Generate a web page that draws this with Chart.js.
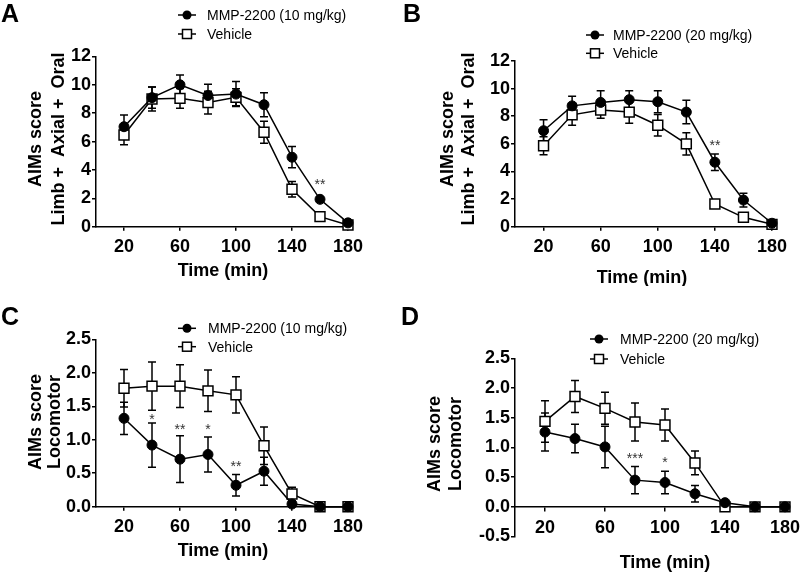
<!DOCTYPE html>
<html lang="en">
<head>
<meta charset="UTF-8">
<title>AIMs score</title>
<style>
  body { margin: 0; background: #fff; }
  .panel { position: absolute; width: 400px; height: 286px; }
</style>
</head>
<body>
<div class="panel" style="left:0;top:0"><canvas id="pA" width="400" height="286"></canvas></div>
<div class="panel" style="left:400px;top:0"><canvas id="pB" width="400" height="286"></canvas></div>
<div class="panel" style="left:0;top:286px"><canvas id="pC" width="400" height="286"></canvas></div>
<div class="panel" style="left:400px;top:286px"><canvas id="pD" width="400" height="286"></canvas></div>
<script src="https://cdn.jsdelivr.net/npm/chart.js"></script>
<script>
const times = [20, 40, 60, 80, 100, 120, 140, 160, 180];
const xTicks = [20, 60, 100, 140, 180];

// A: limb + axial + oral, 10 mg/kg
const mmp10Limb = [7.05, 9.1, 10.0, 9.25, 9.35, 8.6, 4.9, 1.93, 0.27];
const mmp10LimbSem = [0.83, 0.75, 0.7, 0.8, 0.88, 0.85, 0.75, 0.15, 0.1];
const veh10Limb = [6.47, 9.0, 9.05, 8.75, 9.12, 6.66, 2.64, 0.71, 0.12];
const veh10LimbSem = [0.7, 0.85, 0.7, 0.8, 0.6, 0.78, 0.55, 0.12, 0.08];

// B: limb + axial + oral, 20 mg/kg
const mmp20Limb = [6.95, 8.75, 9.0, 9.2, 9.05, 8.3, 4.67, 1.93, 0.25];
const mmp20LimbSem = [0.8, 0.7, 0.85, 0.65, 0.8, 0.85, 0.6, 0.5, 0.1];
const veh20Limb = [5.86, 8.1, 8.45, 8.3, 7.35, 6.0, 1.64, 0.68, 0.17];
const veh20LimbSem = [0.65, 0.75, 0.6, 0.8, 0.78, 0.8, 0.1, 0.1, 0.08];

// C: locomotor, 10 mg/kg
const mmp10Loco = [1.32, 0.92, 0.71, 0.78, 0.32, 0.53, 0.04, 0, 0];
const mmp10LocoSem = [0.24, 0.33, 0.35, 0.26, 0.16, 0.21, 0.02, 0, 0];
const veh10Loco = [1.77, 1.80, 1.80, 1.73, 1.67, 0.91, 0.19, 0, 0];
const veh10LocoSem = [0.28, 0.36, 0.32, 0.31, 0.27, 0.28, 0.1, 0, 0];

// D: locomotor, 20 mg/kg
const mmp20Loco = [1.26, 1.15, 1.01, 0.45, 0.41, 0.22, 0.07, 0, 0];
const mmp20LocoSem = [0.32, 0.24, 0.35, 0.23, 0.19, 0.14, 0.02, 0, 0];
const veh20Loco = [1.44, 1.86, 1.66, 1.43, 1.38, 0.74, 0, 0, 0];
const veh20LocoSem = [0.35, 0.27, 0.27, 0.32, 0.27, 0.2, 0, 0, 0];

// significance marks
const starsA = [{ x: 160, y: 3.2, text: '**' }];
const starsB = [{ x: 140, y: 6.15, text: '**' }];
const starsC = [
  { x: 40, y: 1.35, text: '*' },
  { x: 60, y: 1.21, text: '**' },
  { x: 80, y: 1.21, text: '*' },
  { x: 100, y: 0.65, text: '**' },
];
const starsD = [
  { x: 80, y: 0.88, text: '***' },
  { x: 100, y: 0.81, text: '*' },
];

const FONT = "'Liberation Sans', Arial, Helvetica, sans-serif";
Chart.defaults.font.family = FONT;
Chart.defaults.color = '#000';

const W = 400, H = 286;

// error bars under the markers, stars / legend / titles on top
const decor = {
  id: 'decor',
  beforeDatasetsDraw(chart) {
    const ctx = chart.ctx;
    const ys = chart.scales.y;
    ctx.save();
    ctx.strokeStyle = '#000';
    ctx.lineWidth = 1.5;
    chart.data.datasets.forEach((ds, di) => {
      const meta = chart.getDatasetMeta(di);
      meta.data.forEach((pt, i) => {
        const e = ds.errors[i];
        if (!e) return;
        const v = ds.data[i].y;
        const y1 = ys.getPixelForValue(v - e);
        const y2 = ys.getPixelForValue(v + e);
        ctx.beginPath();
        ctx.moveTo(pt.x, y1); ctx.lineTo(pt.x, y2);
        ctx.moveTo(pt.x - 4, y1); ctx.lineTo(pt.x + 4, y1);
        ctx.moveTo(pt.x - 4, y2); ctx.lineTo(pt.x + 4, y2);
        ctx.stroke();
      });
    });
    ctx.restore();
  },
  afterDraw(chart, args, o) {
    const ctx = chart.ctx;
    const xs = chart.scales.x, ys = chart.scales.y;
    ctx.save();
    ctx.fillStyle = '#000';

    // panel letter
    ctx.font = `bold 25px ${FONT}`;
    ctx.textAlign = 'left';
    ctx.textBaseline = 'alphabetic';
    ctx.fillText(o.letter, o.letterPos[0], o.letterPos[1]);

    // stars
    ctx.font = `14px ${FONT}`;
    ctx.fillStyle = '#333';
    ctx.textAlign = 'center';
    o.stars.forEach(s => {
      ctx.fillText(s.text, xs.getPixelForValue(s.x), ys.getPixelForValue(s.y) + 8);
    });
    ctx.fillStyle = '#000';

    // legend
    const lg = o.legend;
    ctx.lineWidth = 1.5;
    ctx.strokeStyle = '#000';
    ctx.font = `14px ${FONT}`;
    ctx.textAlign = 'left';
    lg.labels.forEach((lab, i) => {
      const y = lg.rows[i];
      ctx.beginPath();
      ctx.moveTo(lg.cx - 9, y); ctx.lineTo(lg.cx + 9, y);
      ctx.stroke();
      if (i === 0) {
        ctx.beginPath();
        ctx.arc(lg.cx, y, 4.5, 0, Math.PI * 2);
        ctx.fill();
      } else {
        ctx.fillStyle = '#fff';
        ctx.fillRect(lg.cx - 4.5, y - 4.5, 9, 9);
        ctx.strokeRect(lg.cx - 4.5, y - 4.5, 9, 9);
        ctx.fillStyle = '#000';
      }
      ctx.fillText(lab, lg.tx, y + 5);
    });

    // axis titles
    ctx.font = `bold 18px ${FONT}`;
    ctx.textAlign = 'center';
    ctx.fillText('Time (min)', o.xTitle[0], o.xTitle[1] + 6);
    o.yTitle.lines.forEach((line, i) => {
      ctx.save();
      ctx.translate(o.yTitle.xs[i], o.yTitle.yc);
      ctx.rotate(-Math.PI / 2);
      ctx.fillText(line, 0, 6.4);
      ctx.restore();
    });
    ctx.restore();
  }
};

function makePanel(id, cfg) {
  const a = cfg.area;
  const pts = arr => times.map((t, i) => ({ x: t, y: arr[i] }));
  const tickFont = { size: 18, weight: 'bold' };
  const xScale = {
    type: 'linear',
    min: 0,
    max: 180,
    border: { display: true, color: '#000', width: 1.5 },
    grid: { display: true, drawOnChartArea: false, drawTicks: true, tickLength: 4, color: '#000', lineWidth: 1.5 },
    ticks: { font: tickFont, padding: 6, maxRotation: 0, callback: v => v },
    afterBuildTicks: s => { s.ticks = xTicks.map(v => ({ value: v })); },
    afterFit: s => {
      s.height = cfg.axisAtZero ? 0 : H - a.bottom;
      s.paddingLeft = 0; s.paddingRight = 0;
    },
  };
  if (cfg.axisAtZero) xScale.position = { y: 0 };
  new Chart(document.getElementById(id), {
    type: 'line',
    data: {
      datasets: [
        {
          data: pts(cfg.mmp), errors: cfg.mmpErr, clip: false,
          borderColor: '#000', borderWidth: 1.5,
          pointStyle: 'circle', pointRadius: 5,
          pointBackgroundColor: '#000', pointBorderColor: '#000', pointBorderWidth: 1,
        },
        {
          data: pts(cfg.veh), errors: cfg.vehErr, clip: false,
          borderColor: '#000', borderWidth: 1.5,
          pointStyle: 'rect', pointRadius: 7,
          pointBackgroundColor: '#fff', pointBorderColor: '#000', pointBorderWidth: 1.5,
        },
      ],
    },
    options: {
      responsive: false,
      animation: false,
      events: [],
      layout: {
        padding: { left: 0, top: a.top, right: W - a.right, bottom: cfg.axisAtZero ? H - a.bottom : 0 },
      },
      scales: {
        x: xScale,
        y: {
          min: cfg.yMin, max: cfg.yMax,
          border: { display: true, color: '#000', width: 1.5 },
          grid: { display: true, drawOnChartArea: false, drawTicks: true, tickLength: 4, color: '#000', lineWidth: 1.5 },
          ticks: {
            font: tickFont, padding: 1, stepSize: cfg.yStep,
            callback: v => cfg.decimals ? v.toFixed(1) : v,
          },
          afterFit: s => { s.width = a.left; s.paddingTop = 0; s.paddingBottom = 0; },
        },
      },
      plugins: {
        legend: { display: false },
        tooltip: { enabled: false },
        decor: {
          letter: cfg.letter, letterPos: cfg.letterPos,
          stars: cfg.stars,
          legend: cfg.legend,
          xTitle: cfg.xTitle,
          yTitle: cfg.yTitle,
        },
      },
    },
    plugins: [decor],
  });
}

makePanel('pA', {
  letter: 'A', letterPos: [1, 22],
  area: { left: 96, right: 348, top: 56.5, bottom: 226.7 },
  yMin: 0, yMax: 12, yStep: 2,
  mmp: mmp10Limb, mmpErr: mmp10LimbSem, veh: veh10Limb, vehErr: veh10LimbSem,
  stars: starsA,
  legend: { labels: ['MMP-2200 (10 mg/kg)', 'Vehicle'], cx: 187, tx: 207, rows: [15, 34] },
  xTitle: [223, 269.5],
  yTitle: { lines: ['AIMs score', 'Limb +  Axial +  Oral'], xs: [35, 58], yc: 139 },
});

makePanel('pB', {
  letter: 'B', letterPos: [3, 22],
  area: { left: 115, right: 372, top: 61, bottom: 226.7 },
  yMin: 0, yMax: 12, yStep: 2,
  mmp: mmp20Limb, mmpErr: mmp20LimbSem, veh: veh20Limb, vehErr: veh20LimbSem,
  stars: starsB,
  legend: { labels: ['MMP-2200 (20 mg/kg)', 'Vehicle'], cx: 195, tx: 213, rows: [35, 53.3] },
  xTitle: [242, 276.7],
  yTitle: { lines: ['AIMs score', 'Limb +  Axial +  Oral'], xs: [47, 68], yc: 139 },
});

makePanel('pC', {
  letter: 'C', letterPos: [1, 39],
  area: { left: 96, right: 348, top: 53.3, bottom: 220.7 },
  yMin: 0, yMax: 2.5, yStep: 0.5, decimals: true,
  mmp: mmp10Loco, mmpErr: mmp10LocoSem, veh: veh10Loco, vehErr: veh10LocoSem,
  stars: starsC,
  legend: { labels: ['MMP-2200 (10 mg/kg)', 'Vehicle'], cx: 187, tx: 208, rows: [42.3, 60.7] },
  xTitle: [223, 264],
  yTitle: { lines: ['AIMs score', 'Locomotor'], xs: [35, 53.3], yc: 136 },
});

makePanel('pD', {
  letter: 'D', letterPos: [1, 39],
  area: { left: 115, right: 385, top: 72.5, bottom: 250.5 },
  yMin: -0.5, yMax: 2.5, yStep: 0.5, decimals: true, axisAtZero: true,
  mmp: mmp20Loco, mmpErr: mmp20LocoSem, veh: veh20Loco, vehErr: veh20LocoSem,
  stars: starsD,
  legend: { labels: ['MMP-2200 (20 mg/kg)', 'Vehicle'], cx: 199, tx: 220, rows: [53, 73] },
  xTitle: [265, 275.7],
  yTitle: { lines: ['AIMs score', 'Locomotor'], xs: [34, 55], yc: 158 },
});
</script>
</body>
</html>
